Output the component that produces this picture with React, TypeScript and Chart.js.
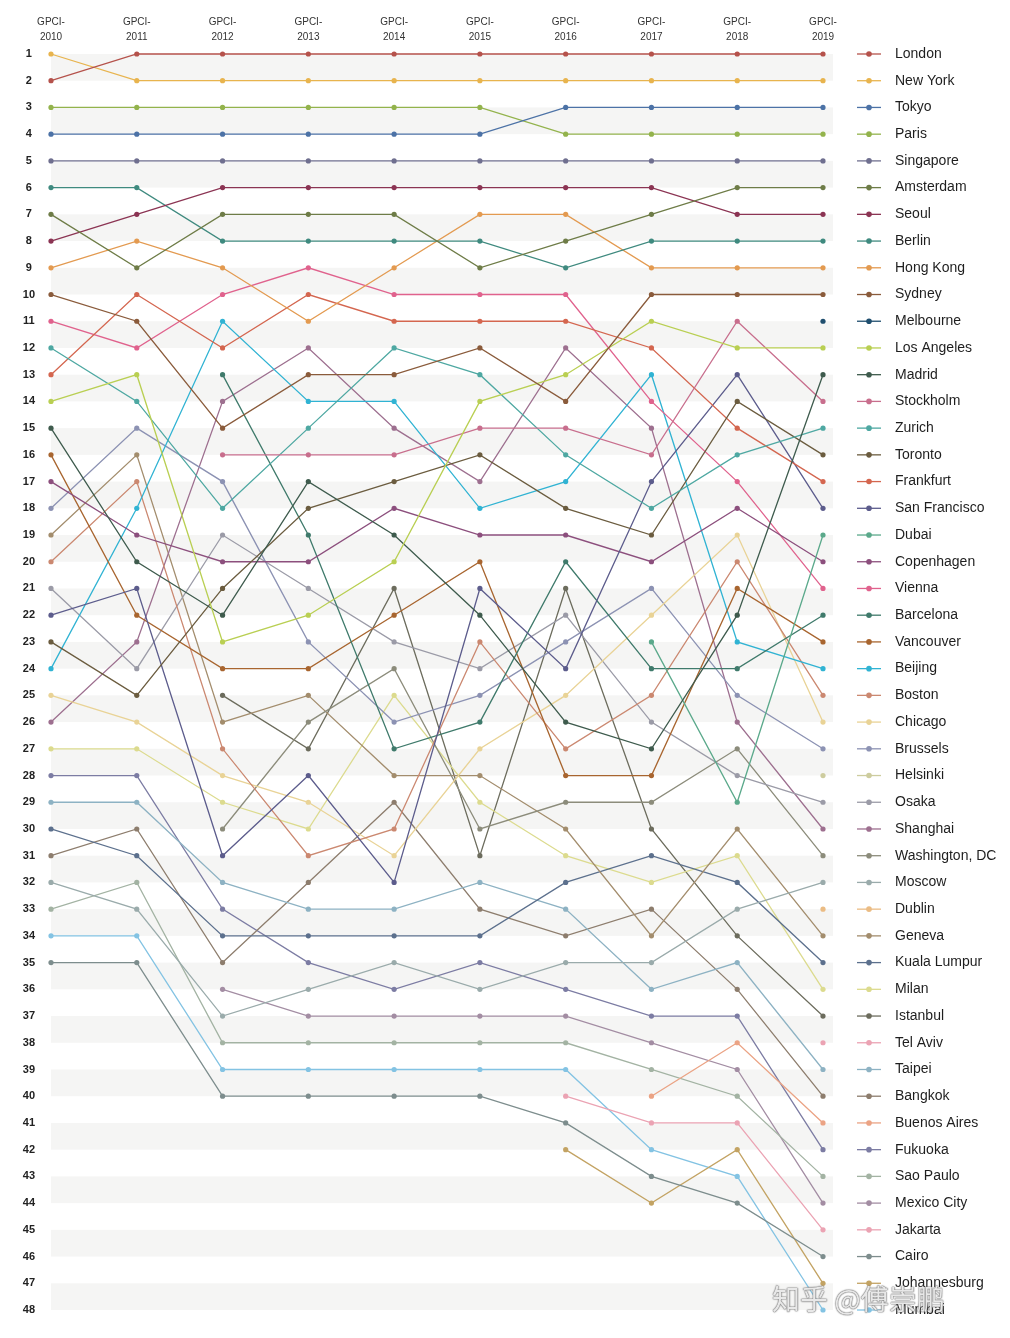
import React, { useEffect, useRef } from "react";
import { Chart, registerables } from "chart.js";

Chart.register(...registerables);

const YEARS = ["2010", "2011", "2012", "2013", "2014", "2015", "2016", "2017", "2018", "2019"];

const CITIES = [
  "London", "New York", "Tokyo", "Paris", "Singapore", "Amsterdam", "Seoul", "Berlin",
  "Hong Kong", "Sydney", "Melbourne", "Los Angeles", "Madrid", "Stockholm", "Zurich",
  "Toronto", "Frankfurt", "San Francisco", "Dubai", "Copenhagen", "Vienna", "Barcelona",
  "Vancouver", "Beijing", "Boston", "Chicago", "Brussels", "Helsinki", "Osaka", "Shanghai",
  "Washington, DC", "Moscow", "Dublin", "Geneva", "Kuala Lumpur", "Milan", "Istanbul",
  "Tel Aviv", "Taipei", "Bangkok", "Buenos Aires", "Fukuoka", "Sao Paulo", "Mexico City",
  "Jakarta", "Cairo", "Johannesburg", "Mumbai",
];

const COLORS = [
  "#b5524b", "#e8b44e", "#4c72a6", "#93b34c", "#6f6f8f", "#6e7c47", "#8b3453", "#3f8a7f",
  "#e39a50", "#8a5b3b", "#1f4e6e", "#b9cf52", "#3e5b4d", "#c86e8d", "#4ea8a2",
  "#6b5c3f", "#d4664f", "#5c5c8c", "#5ba98b", "#8c4f7d", "#e0628d", "#3f7a6b",
  "#a8652f", "#30b3d3", "#cb8870", "#e9d396", "#8c92b3", "#cdcc9e", "#9b9ba7", "#9d6f8f",
  "#8c8c7b", "#9aabab", "#ebbc84", "#a38d6d", "#5c708d", "#dcdb8e", "#6c6c5d",
  "#eba3b3", "#8db2c3", "#8d7d6d", "#eba384", "#7c7ca3", "#a3b3a3", "#a38da3",
  "#eba3b3", "#7d8d8d", "#c3a363", "#83c3e3",
];

const N = null;
const rLondon = [2, 1, 1, 1, 1, 1, 1, 1, 1, 1];
const rNewYork = [1, 2, 2, 2, 2, 2, 2, 2, 2, 2];
const rTokyo = [4, 4, 4, 4, 4, 4, 3, 3, 3, 3];
const rParis = [3, 3, 3, 3, 3, 3, 4, 4, 4, 4];
const rSingapore = [5, 5, 5, 5, 5, 5, 5, 5, 5, 5];
const rAmsterdam = [7, 9, 7, 7, 7, 9, 8, 7, 6, 6];
const rSeoul = [8, 7, 6, 6, 6, 6, 6, 6, 7, 7];
const rBerlin = [6, 6, 8, 8, 8, 8, 9, 8, 8, 8];
const rHongKong = [9, 8, 9, 11, 9, 7, 7, 9, 9, 9];
const rSydney = [10, 11, 15, 13, 13, 12, 14, 10, 10, 10];
const rMelbourne = [N, N, N, N, N, N, N, N, N, 11];
const rLosAngeles = [14, 13, 23, 22, 20, 14, 13, 11, 12, 12];
const rMadrid = [15, 20, 22, 17, 19, 22, 26, 27, 22, 13];
const rStockholm = [N, N, 16, 16, 16, 15, 15, 16, 11, 14];
const rZurich = [12, 14, 18, 15, 12, 13, 16, 18, 16, 15];
const rToronto = [23, 25, 21, 18, 17, 16, 18, 19, 14, 16];
const rFrankfurt = [13, 10, 12, 10, 11, 11, 11, 12, 15, 17];
const rSanFrancisco = [22, 21, 31, 28, 32, 21, 24, 17, 13, 18];
const rDubai = [N, N, N, N, N, N, N, 23, 29, 19];
const rCopenhagen = [17, 19, 20, 20, 18, 19, 19, 20, 18, 20];
const rVienna = [11, 12, 10, 9, 10, 10, 10, 14, 17, 21];
const rBarcelona = [N, N, 13, 19, 27, 26, 20, 24, 24, 22];
const rVancouver = [16, 22, 24, 24, 22, 20, 28, 28, 21, 23];
const rBeijing = [24, 18, 11, 14, 14, 18, 17, 13, 23, 24];
const rBoston = [20, 17, 27, 31, 30, 23, 27, 25, 20, 25];
const rChicago = [25, 26, 28, 29, 31, 27, 25, 22, 19, 26];
const rBrussels = [18, 15, 17, 23, 26, 25, 23, 21, 25, 27];
const rHelsinki = [N, N, N, N, N, N, N, N, N, 28];
const rOsaka = [21, 24, 19, 21, 23, 24, 22, 26, 28, 29];
const rShanghai = [26, 23, 14, 12, 15, 17, 12, 15, 26, 30];
const rWashington = [N, N, 30, 26, 24, 30, 29, 29, 27, 31];
const rMoscow = [32, 33, 37, 36, 35, 36, 35, 35, 33, 32];
const rDublin = [N, N, N, N, N, N, N, N, N, 33];
const rGeneva = [19, 16, 26, 25, 28, 28, 30, 34, 30, 34];
const rKualaLumpur = [30, 31, 34, 34, 34, 34, 32, 31, 32, 35];
const rMilan = [27, 27, 29, 30, 25, 29, 31, 32, 31, 36];
const rIstanbul = [N, N, 25, 27, 21, 31, 21, 30, 34, 37];
const rTelAviv = [N, N, N, N, N, N, N, N, N, 38];
const rTaipei = [29, 29, 32, 33, 33, 32, 33, 36, 35, 39];
const rBangkok = [31, 30, 35, 32, 29, 33, 34, 33, 36, 40];
const rBuenosAires = [N, N, N, N, N, N, N, 40, 38, 41];
const rFukuoka = [28, 28, 33, 35, 36, 35, 36, 37, 37, 42];
const rSaoPaulo = [33, 32, 38, 38, 38, 38, 38, 39, 40, 43];
const rMexicoCity = [N, N, 36, 37, 37, 37, 37, 38, 39, 44];
const rJakarta = [N, N, N, N, N, N, 40, 41, 41, 45];
const rCairo = [35, 35, 40, 40, 40, 40, 41, 43, 44, 46];
const rJohannesburg = [N, N, N, N, N, N, 42, 44, 42, 47];
const rMumbai = [34, 34, 39, 39, 39, 39, 39, 42, 43, 48];

const SERIES = [
  rLondon, rNewYork, rTokyo, rParis, rSingapore, rAmsterdam, rSeoul, rBerlin,
  rHongKong, rSydney, rMelbourne, rLosAngeles, rMadrid, rStockholm, rZurich,
  rToronto, rFrankfurt, rSanFrancisco, rDubai, rCopenhagen, rVienna, rBarcelona,
  rVancouver, rBeijing, rBoston, rChicago, rBrussels, rHelsinki, rOsaka, rShanghai,
  rWashington, rMoscow, rDublin, rGeneva, rKualaLumpur, rMilan, rIstanbul,
  rTelAviv, rTaipei, rBangkok, rBuenosAires, rFukuoka, rSaoPaulo, rMexicoCity,
  rJakarta, rCairo, rJohannesburg, rMumbai,
];

const RANK_MAX = 48;
const FONT = "'Liberation Sans', Arial, Helvetica, sans-serif";

const bandsPlugin = {
  id: "bands",
  beforeDatasetsDraw(chart: any) {
    const { ctx, chartArea } = chart;
    const y = chart.scales.y;
    ctx.save();
    ctx.fillStyle = "#f5f5f4";
    for (let r = 1; r < RANK_MAX; r += 2) {
      const y1 = y.getPixelForValue(r);
      const y2 = y.getPixelForValue(r + 1);
      ctx.fillRect(chartArea.left, y1, chartArea.right + 10 - chartArea.left, y2 - y1);
    }
    ctx.restore();
  },
};

const legendMarkPlugin = {
  id: "legendMarks",
  afterDraw(chart: any) {
    const { ctx, chartArea } = chart;
    const y = chart.scales.yr;
    ctx.save();
    CITIES.forEach((_, i) => {
      const py = y.getPixelForValue(i + 1);
      const x0 = chartArea.right + 34;
      ctx.strokeStyle = COLORS[i];
      ctx.lineWidth = 1.3;
      ctx.beginPath();
      ctx.moveTo(x0, py);
      ctx.lineTo(x0 + 24, py);
      ctx.stroke();
      ctx.fillStyle = COLORS[i];
      ctx.beginPath();
      ctx.arc(x0 + 12, py, 2.8, 0, Math.PI * 2);
      ctx.fill();
    });
    ctx.restore();
  },
};

function fixV(width: number) {
  return (s: any) => {
    s.width = width;
    s.paddingTop = 0;
    s.paddingBottom = 0;
  };
}

export default function App() {
  const ref = useRef<HTMLCanvasElement | null>(null);

  useEffect(() => {
    if (!ref.current) return;
    const datasets = CITIES.map((name, i) => ({
      label: name,
      data: SERIES[i],
      borderColor: COLORS[i],
      backgroundColor: COLORS[i],
      pointBackgroundColor: COLORS[i],
      pointBorderColor: COLORS[i],
      borderWidth: 1.3,
      pointRadius: 2.6,
      pointBorderWidth: 0,
      tension: 0,
      spanGaps: false,
      clip: false as any,
      yAxisID: "y",
    }));
    const chart = new Chart(ref.current, {
      type: "line",
      data: { labels: YEARS, datasets },
      plugins: [bandsPlugin, legendMarkPlugin],
      options: {
        responsive: false,
        animation: false,
        devicePixelRatio: 1,
        layout: { padding: { top: 0, left: 0, right: 0, bottom: 28 } },
        plugins: { legend: { display: false }, tooltip: { enabled: false } },
        scales: {
          x: {
            type: "category",
            position: "top",
            offset: false,
            grid: { display: false, drawTicks: false },
            border: { display: false },
            ticks: {
              autoSkip: false,
              maxRotation: 0,
              padding: 9,
              color: "#333",
              font: { family: FONT, size: 10, lineHeight: 1.5 },
              callback: (_v: any, i: number) => ["GPCI-", YEARS[i]],
            },
            afterFit: (s: any) => {
              s.height = 54;
              s.paddingLeft = 0;
              s.paddingRight = 0;
            },
          },
          y: {
            type: "linear",
            position: "left",
            reverse: true,
            min: 1,
            max: RANK_MAX,
            grid: { display: false, drawTicks: false },
            border: { display: false },
            ticks: {
              stepSize: 1,
              autoSkip: false,
              crossAlign: "center",
              padding: 16,
              color: "#222",
              font: { family: FONT, size: 11, weight: "bold" },
              callback: (v: any) => String(v),
            },
            afterFit: fixV(51),
          },
          yr: {
            type: "linear",
            position: "right",
            reverse: true,
            min: 1,
            max: RANK_MAX,
            grid: { display: false, drawTicks: false },
            border: { display: false },
            ticks: {
              stepSize: 1,
              autoSkip: false,
              crossAlign: "near",
              padding: 72,
              color: "#1e1e1e",
              font: { family: FONT, size: 14 },
              callback: (v: any) => CITIES[Number(v) - 1] ?? "",
            },
            afterFit: fixV(187),
          },
        },
      },
    });
    return () => chart.destroy();
  }, []);

  return (
    <div style={{ position: "absolute", left: 0, top: 0, width: 1010, height: 1338, background: "#fff" }}>
      <canvas ref={ref} width={1010} height={1338} style={{ display: "block" }} />
      <div
        style={{
          position: "absolute",
          left: 772,
          top: 1282,
          fontFamily: "'Noto Sans CJK SC', sans-serif",
          fontSize: 28,
          lineHeight: "32px",
          color: "rgba(255,255,255,0.85)",
          textShadow: "0 0 1px #666, 0 0 1px #666, 0 0 2px #888",
          whiteSpace: "nowrap",
          pointerEvents: "none",
        }}
      >
        知乎 @傅崇鹏
      </div>
    </div>
  );
}
